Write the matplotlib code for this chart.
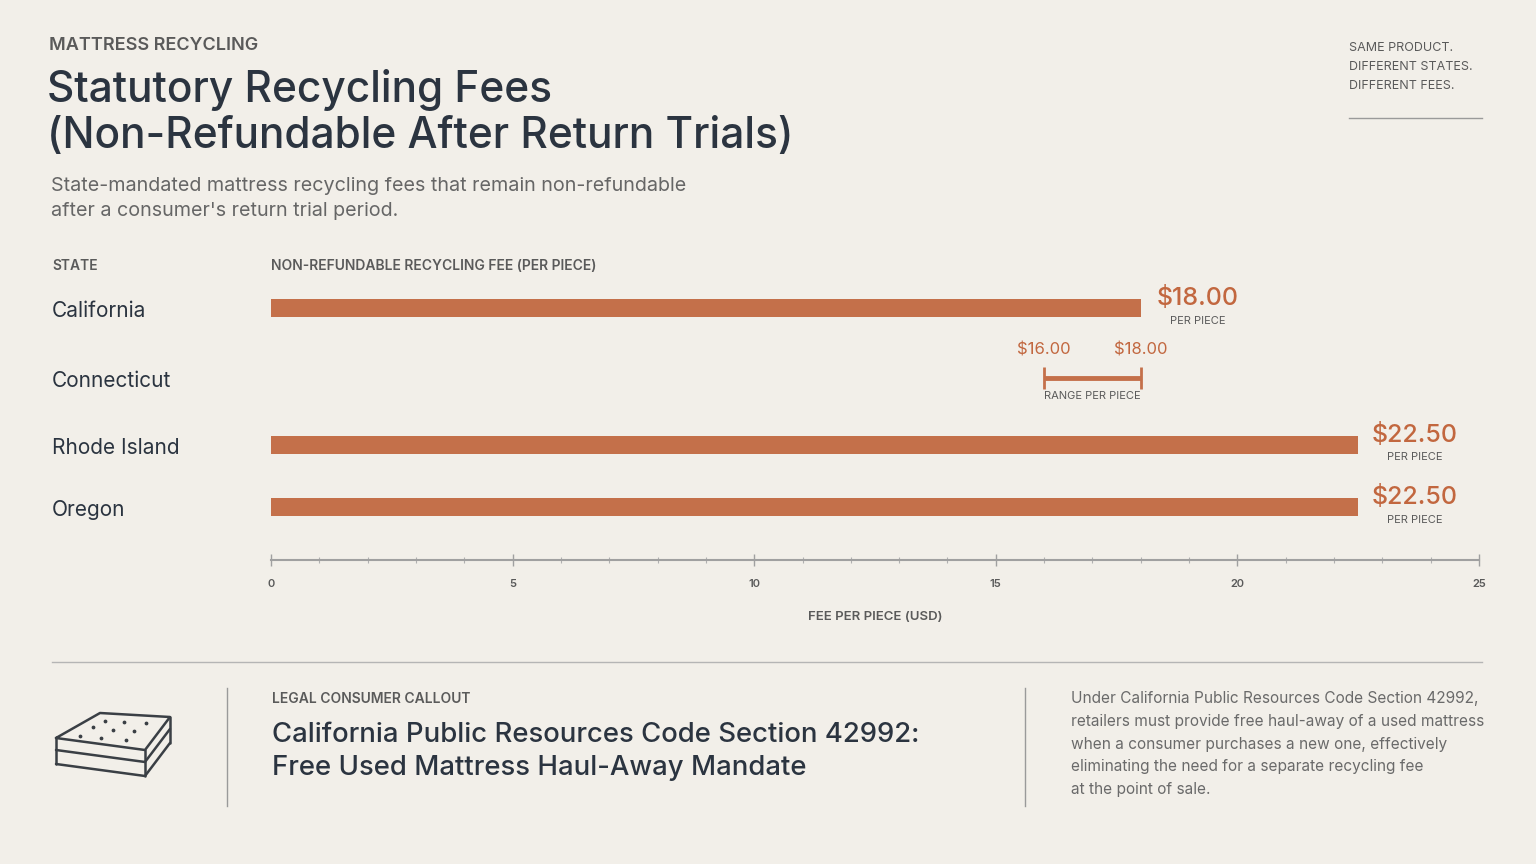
import matplotlib
matplotlib.use("Agg")
import matplotlib.pyplot as plt
from matplotlib.ticker import MultipleLocator

plt.rcParams['font.family'] = ['Inter', 'DejaVu Sans']

# data
states = ["California", "Connecticut", "Rhode Island", "Oregon"]
fees = [18.00, None, 22.50, 22.50]
ct_range = [16.00, 18.00]
x_ticks = [0, 5, 10, 15, 20, 25]

BG = "#F2EFE9"
BAR = "#C4704A"
ORANGE = "#C2673F"
DARK = "#2B3440"
GRAY = "#5A5A5A"

W, H = 1536, 864
fig = plt.figure(figsize=(W / 100, H / 100), dpi=100, facecolor=BG)


def fx(px):
    return px / W


def fy(py):
    return 1 - py / H


def ftext(px, py, s, **kw):
    kw.setdefault("va", "center")
    kw.setdefault("ha", "left")
    fig.text(fx(px), fy(py), s, **kw)


# header
ftext(49, 46, "MATTRESS RECYCLING", fontsize=13, color=GRAY, fontweight="semibold")
ftext(47, 90, "Statutory Recycling Fees", fontsize=30.5, color=DARK, fontweight="medium")
ftext(47, 137, "(Non-Refundable After Return Trials)", fontsize=30.5, color=DARK,
      fontweight="medium")
ftext(51, 186, "State-mandated mattress recycling fees that remain non-refundable",
      fontsize=14.2, color="#666666")
ftext(51, 211, "after a consumer's return trial period.", fontsize=14.2, color="#666666")

for i, line in enumerate(["SAME PRODUCT.", "DIFFERENT STATES.", "DIFFERENT FEES."]):
    ftext(1349, 48 + 19 * i, line, fontsize=9, color=GRAY)
fig.add_artist(plt.Line2D([fx(1349), fx(1482)], [fy(118), fy(118)], color="#9A9A9A", lw=1))

ftext(52, 266, "STATE", fontsize=10, color=GRAY, fontweight="semibold")
ftext(271, 266, "NON-REFUNDABLE RECYCLING FEE (PER PIECE)", fontsize=10, color=GRAY,
      fontweight="semibold")

# chart
top_px, bot_px = 285, 560
ax = fig.add_axes([fx(271), fy(bot_px), (1479 - 271) / W, (bot_px - top_px) / H])
ax.set_facecolor("none")
ax.set_xlim(0, 25)
ax.set_ylim(3.799, -0.347)

pos = [0, 1.055, 2.065, 3.0]
for y, name in zip(pos, states):
    fig.text(fx(52), ax.transData.transform((0, y))[1] / H - 3 / H, name, fontsize=15,
             color=DARK, va="center", ha="left")

for y, v in zip(pos, fees):
    if v is None:
        continue
    ax.barh(y, v, height=0.26, color=BAR)
    ax.annotate(f"${v:.2f}", xy=(v, y), xytext=(41, 7), textcoords="offset points",
                ha="center", va="center", fontsize=18, color=ORANGE, fontweight="medium",
                annotation_clip=False)
    ax.annotate("PER PIECE", xy=(v, y), xytext=(41, -9), textcoords="offset points",
                ha="center", va="center", fontsize=8, color=GRAY, annotation_clip=False)

# Connecticut range
cy = pos[1]
lo, hi = ct_range
ax.plot([lo, hi], [cy, cy], color=BAR, lw=3.5, solid_capstyle="butt")
ax.vlines([lo, hi], cy - 0.16, cy + 0.16, color=BAR, lw=2)
for v in ct_range:
    ax.annotate(f"${v:.2f}", xy=(v, cy), xytext=(0, 20), textcoords="offset points",
                ha="center", va="center", fontsize=12, color=ORANGE, annotation_clip=False)
ax.annotate("RANGE PER PIECE", xy=((lo + hi) / 2, cy), xytext=(0, -13),
            textcoords="offset points", ha="center", va="center", fontsize=8,
            color=GRAY, annotation_clip=False)

for s in ["top", "left", "right"]:
    ax.spines[s].set_visible(False)
ax.spines["bottom"].set_color("#A0A0A0")
ax.spines["bottom"].set_linewidth(1.5)
ax.set_yticks([])
ax.set_xticks(x_ticks)
ax.xaxis.set_minor_locator(MultipleLocator(1))
ax.tick_params(axis="x", which="major", direction="inout", length=9, width=1,
               color="#A0A0A0", labelsize=8, labelcolor=GRAY, pad=9)
ax.tick_params(axis="x", which="minor", direction="inout", length=4, width=0.8,
               color="#B0B0B0")
for lab in ax.get_xticklabels():
    lab.set_fontweight("semibold")
ax.set_xlabel("FEE PER PIECE (USD)", fontsize=9.5, color=GRAY, labelpad=16,
              fontweight="semibold")

# bottom section
fig.add_artist(plt.Line2D([fx(52), fx(1482)], [fy(662), fy(662)], color="#B5B5B5", lw=1))
for xp in [227, 1025]:
    fig.add_artist(plt.Line2D([fx(xp), fx(xp)], [fy(688), fy(806)], color="#9A9A9A", lw=1))

ftext(272, 699, "LEGAL CONSUMER CALLOUT", fontsize=10, color=GRAY, fontweight="semibold")
ftext(272, 735, "California Public Resources Code Section 42992:", fontsize=19.8,
      color=DARK, fontweight="medium")
ftext(272, 768, "Free Used Mattress Haul-Away Mandate", fontsize=19.8, color=DARK,
      fontweight="medium")

para = ["Under California Public Resources Code Section 42992,",
        "retailers must provide free haul-away of a used mattress",
        "when a consumer purchases a new one, effectively",
        "eliminating the need for a separate recycling fee",
        "at the point of sale."]
for i, line in enumerate(para):
    ftext(1071, 699 + 22.6 * i, line, fontsize=11.1, color="#6A6A6A")

# mattress icon
ic = fig.add_axes([0, 0, 1, 1], facecolor="none")
ic.set_xlim(0, W)
ic.set_ylim(H, 0)
ic.axis("off")
p1, p2, p3, p4 = (56, 738), (100, 713), (170, 717), (145, 750)
t1, t2 = 12, 26
lc = "#3A3F45"
kw = dict(color=lc, lw=1.8, solid_joinstyle="round", solid_capstyle="round")
top = [p1, p2, p3, p4, p1]
ic.plot([p[0] for p in top], [p[1] for p in top], **kw)
for t in [t1, t2]:
    ic.plot([p1[0], p4[0], p3[0]], [p1[1] + t, p4[1] + t, p3[1] + t], **kw)
for p in [p1, p4, p3]:
    ic.plot([p[0], p[0]], [p[1], p[1] + t2], **kw)
dots_x = [105, 124, 146, 93, 113, 134, 80, 101, 126]
dots_y = [721, 722, 723, 727, 730, 731, 736, 738, 740]
ic.scatter(dots_x, dots_y, s=3, color=lc)

fig.savefig("out.png", dpi=100, facecolor=BG)
